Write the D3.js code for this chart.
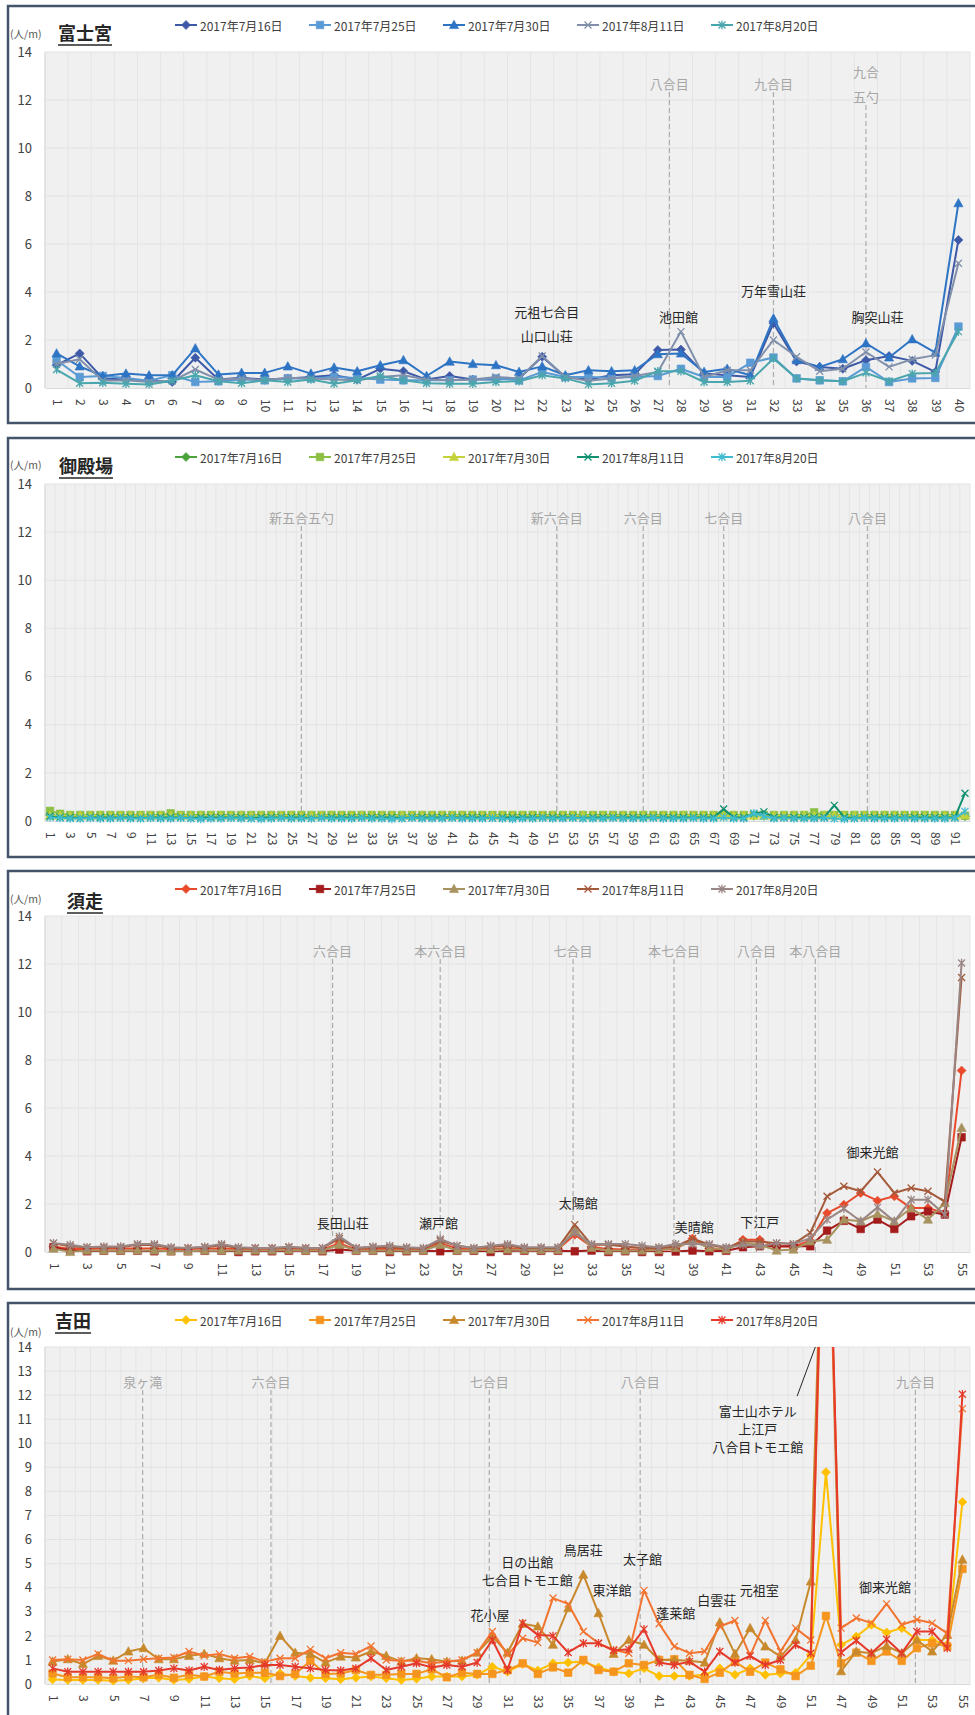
<!DOCTYPE html>
<html>
<head>
<meta charset="utf-8">
<script src="https://cdn.jsdelivr.net/npm/d3@7"></script>
<style>
  body { margin: 0; background: #fff; }
  svg { display: block; font-family: "Noto Sans CJK JP", "Noto Sans", sans-serif; }
</style>
</head>
<body>
<svg id="chart" width="975" height="1715"></svg>
<script>
// ---- data ----
const dates = ["2017年7月16日", "2017年7月25日", "2017年7月30日", "2017年8月11日", "2017年8月20日"];

// 富士宮 (points 1-40)
const fujiLabels = d3.range(1, 41).map(String);
const fuji716 = [0.95,1.44,0.4,0.35,0.3,0.25,1.26,0.35,0.43,0.35,0.4,0.46,0.53,0.35,0.8,0.7,0.35,0.5,0.35,0.35,0.4,1.3,0.46,0.35,0.53,0.57,1.58,1.6,0.6,0.53,0.46,2.7,1.1,0.88,0.8,1.16,1.33,1.13,0.67,6.17];
const fuji725 = [1.16,0.46,0.5,0.42,0.3,0.53,0.25,0.28,0.35,0.32,0.4,0.4,0.46,0.42,0.35,0.32,0.32,0.32,0.35,0.4,0.32,0.67,0.46,0.46,0.43,0.46,0.5,0.8,0.46,0.46,1.05,1.27,0.4,0.32,0.28,0.88,0.25,0.4,0.42,2.56];
const fuji730 = [1.44,0.9,0.5,0.6,0.53,0.53,1.65,0.56,0.63,0.63,0.9,0.6,0.85,0.7,0.95,1.16,0.5,1.1,1.0,0.95,0.67,0.9,0.53,0.74,0.7,0.74,1.41,1.44,0.67,0.8,0.53,2.9,1.16,0.88,1.2,1.86,1.27,2.03,1.47,7.7];
const fuji811 = [1.0,1.2,0.3,0.32,0.25,0.3,0.77,0.35,0.4,0.32,0.43,0.4,0.35,0.32,0.46,0.53,0.35,0.32,0.35,0.46,0.4,1.33,0.46,0.3,0.4,0.5,0.67,2.35,0.46,0.74,0.74,2.0,1.3,0.7,0.8,1.5,0.88,1.2,1.37,5.2];
const fuji820 = [0.77,0.2,0.22,0.18,0.15,0.3,0.53,0.28,0.2,0.32,0.25,0.35,0.18,0.32,0.5,0.32,0.2,0.18,0.18,0.25,0.28,0.53,0.4,0.15,0.2,0.3,0.7,0.7,0.25,0.25,0.3,1.23,0.4,0.32,0.28,0.63,0.28,0.6,0.63,2.35];

// 御殿場 (points 1-92)
const gotenLabels = d3.range(1, 93).map(String);
const goten716 = [0.25,0.2,0.2,0.2,0.2,0.2,0.2,0.2,0.2,0.2,
  0.2,0.2,0.22,0.2,0.2,0.2,0.2,0.2,0.2,0.2,
  0.2,0.2,0.2,0.2,0.2,0.2,0.2,0.2,0.2,0.2,
  0.2,0.2,0.2,0.2,0.2,0.2,0.2,0.2,0.2,0.2,
  0.2,0.2,0.2,0.2,0.2,0.2,0.2,0.2,0.2,0.2,
  0.2,0.2,0.2,0.2,0.2,0.2,0.2,0.2,0.2,0.2,
  0.2,0.2,0.2,0.2,0.2,0.2,0.2,0.25,0.2,0.2,
  0.22,0.22,0.2,0.2,0.2,0.2,0.22,0.2,0.2,0.2,
  0.2,0.2,0.2,0.2,0.2,0.2,0.2,0.2,0.2,0.2,
  0.2,0.2];
const goten725 = [0.42,0.3,0.25,0.25,0.25,0.25,0.25,0.25,0.25,0.25,
  0.25,0.25,0.32,0.25,0.25,0.25,0.25,0.25,0.25,0.25,
  0.25,0.25,0.25,0.25,0.25,0.25,0.25,0.25,0.25,0.25,
  0.25,0.25,0.25,0.25,0.25,0.25,0.25,0.25,0.25,0.25,
  0.25,0.25,0.25,0.25,0.25,0.25,0.25,0.25,0.25,0.25,
  0.25,0.25,0.25,0.25,0.25,0.25,0.25,0.25,0.25,0.25,
  0.25,0.25,0.25,0.25,0.25,0.25,0.25,0.25,0.25,0.25,
  0.25,0.25,0.25,0.25,0.25,0.25,0.36,0.25,0.25,0.25,
  0.25,0.25,0.25,0.25,0.25,0.25,0.25,0.25,0.25,0.25,
  0.25,0.22];
const goten730 = [0.22,0.22,0.22,0.22,0.22,0.22,0.22,0.22,0.22,0.22,
  0.22,0.22,0.22,0.22,0.22,0.22,0.22,0.22,0.22,0.22,
  0.22,0.22,0.22,0.22,0.22,0.22,0.22,0.22,0.22,0.22,
  0.22,0.22,0.22,0.22,0.22,0.22,0.22,0.22,0.22,0.22,
  0.22,0.22,0.22,0.22,0.22,0.22,0.22,0.22,0.22,0.22,
  0.22,0.22,0.22,0.22,0.22,0.22,0.22,0.22,0.22,0.22,
  0.22,0.22,0.22,0.22,0.22,0.22,0.22,0.22,0.22,0.22,
  0.22,0.22,0.22,0.22,0.22,0.22,0.22,0.22,0.22,0.22,
  0.22,0.22,0.22,0.22,0.22,0.22,0.22,0.22,0.22,0.22,
  0.22,0.25];
const goten811 = [0.2,0.15,0.15,0.12,0.15,0.15,0.15,0.15,0.15,0.12,
  0.15,0.15,0.15,0.15,0.12,0.15,0.15,0.15,0.15,0.15,
  0.12,0.15,0.15,0.15,0.15,0.15,0.12,0.15,0.15,0.15,
  0.15,0.15,0.15,0.15,0.15,0.12,0.15,0.15,0.15,0.15,
  0.15,0.15,0.15,0.15,0.12,0.15,0.15,0.15,0.15,0.15,
  0.15,0.15,0.15,0.12,0.15,0.15,0.15,0.15,0.15,0.15,
  0.15,0.15,0.15,0.15,0.15,0.15,0.15,0.5,0.15,0.15,
  0.3,0.38,0.15,0.15,0.15,0.15,0.15,0.15,0.65,0.15,
  0.12,0.15,0.15,0.15,0.15,0.15,0.15,0.15,0.15,0.15,
  0.15,1.15];
const goten820 = [0.15,0.12,0.1,0.1,0.12,0.1,0.1,0.12,0.1,0.1,
  0.12,0.1,0.1,0.12,0.1,0.08,0.1,0.1,0.12,0.1,
  0.1,0.08,0.1,0.12,0.1,0.1,0.1,0.12,0.1,0.1,
  0.1,0.12,0.1,0.1,0.08,0.1,0.12,0.1,0.1,0.1,
  0.12,0.1,0.1,0.1,0.12,0.1,0.08,0.1,0.1,0.12,
  0.1,0.1,0.12,0.1,0.1,0.1,0.12,0.1,0.1,0.1,
  0.12,0.1,0.1,0.1,0.12,0.1,0.1,0.15,0.1,0.1,
  0.32,0.2,0.1,0.12,0.1,0.1,0.1,0.12,0.1,0.08,
  0.1,0.12,0.1,0.1,0.1,0.12,0.1,0.1,0.1,0.1,
  0.12,0.4];

// 須走 (points 1-55)
const subaLabels = d3.range(1, 56).map(String);
const suba716 = [0.23,0.13,0.12,0.15,0.15,0.15,0.15,0.12,0.12,0.15,0.15,0.12,0.12,0.12,0.15,0.12,0.1,0.37,0.1,0.12,0.12,0.12,0.1,0.37,0.15,0.1,0.15,0.15,0.12,0.12,0.12,0.72,0.22,0.12,0.1,0.1,0.1,0.12,0.56,0.15,0.1,0.51,0.51,0.23,0.23,0.47,1.62,1.97,2.46,2.14,2.32,1.83,1.83,1.62,7.56];
const suba725 = [0.2,0.05,0.03,0.05,0.05,0.05,0.03,0.03,0.03,0.05,0.05,0.0,0.03,0.03,0.05,0.05,0.03,0.1,0.05,0.05,0.0,0.03,0.05,0.03,0.05,0.05,0.0,0.05,0.05,0.05,0.05,0.03,0.06,0.0,0.03,0.0,0.0,0.02,0.06,0.03,0.05,0.2,0.24,0.24,0.24,0.24,0.89,1.3,0.96,1.35,0.96,1.49,1.69,1.56,4.78];
const suba730 = [0.14,0.0,0.06,0.06,0.06,0.06,0.06,0.03,0.03,0.06,0.06,0.06,0.06,0.06,0.08,0.06,0.06,0.3,0.06,0.06,0.06,0.06,0.06,0.3,0.06,0.08,0.1,0.1,0.08,0.08,0.08,0.93,0.17,0.06,0.06,0.06,0.08,0.17,0.44,0.17,0.1,0.38,0.3,0.06,0.1,0.44,0.51,1.35,1.28,1.58,1.28,1.83,1.35,2.04,5.17];
const suba811 = [0.37,0.23,0.2,0.2,0.2,0.3,0.28,0.17,0.17,0.2,0.28,0.17,0.17,0.17,0.2,0.17,0.17,0.56,0.17,0.2,0.2,0.17,0.15,0.47,0.26,0.17,0.23,0.26,0.17,0.17,0.17,1.14,0.3,0.3,0.23,0.17,0.17,0.23,0.56,0.3,0.17,0.44,0.44,0.37,0.33,0.8,2.32,2.74,2.53,3.33,2.46,2.67,2.53,2.1,11.44];
const suba820 = [0.37,0.3,0.2,0.23,0.23,0.33,0.33,0.2,0.17,0.22,0.33,0.2,0.17,0.17,0.22,0.17,0.17,0.65,0.17,0.23,0.26,0.2,0.17,0.54,0.26,0.17,0.26,0.33,0.2,0.2,0.2,0.8,0.33,0.33,0.33,0.26,0.2,0.33,0.33,0.33,0.2,0.3,0.24,0.37,0.33,0.58,1.35,1.8,1.28,1.86,1.28,2.18,2.18,1.56,12.04];

// 吉田 (points 1-52, then the shared 須走 points 47-55)
const yoshLabels = d3.range(1, 53).map(String).concat(d3.range(47, 56).map(String));
const yosh716 = [0.19,0.17,0.17,0.17,0.14,0.17,0.24,0.26,0.17,0.21,0.31,0.24,0.2,0.33,0.24,0.44,0.33,0.26,0.24,0.2,0.26,0.31,0.24,0.17,0.22,0.31,0.31,0.31,0.38,0.72,0.51,0.83,0.56,0.86,0.89,0.93,0.69,0.51,0.44,0.65,0.33,0.33,0.33,0.38,0.65,0.38,0.65,0.38,0.44,0.47,1.21,8.8,1.63,1.97,2.46,2.14,2.32,1.83,1.83,1.63,7.56];
const yosh725 = [0.44,0.28,0.28,0.28,0.24,0.31,0.28,0.38,0.26,0.38,0.31,0.51,0.44,0.47,0.47,0.33,0.42,0.97,0.42,0.44,0.58,0.38,0.38,0.42,0.42,0.61,0.28,0.47,0.42,0.42,0.58,0.86,0.42,0.69,0.47,1.0,0.58,0.51,0.86,0.79,1.0,1.03,0.38,0.21,0.47,0.93,0.51,0.89,0.61,0.33,0.76,2.83,0.86,1.3,0.96,1.35,0.96,1.49,1.69,1.56,4.78];
const yosh730 = [0.93,1.03,0.83,1.17,0.97,1.35,1.49,1.03,1.03,1.17,1.25,1.07,0.97,1.0,0.86,2.0,1.3,1.25,0.89,1.14,1.1,1.35,1.17,0.93,1.07,1.03,0.93,0.97,1.3,1.97,1.3,2.5,2.39,1.63,3.15,4.54,2.94,1.25,1.83,1.63,1.0,1.0,0.97,0.89,2.56,1.25,2.32,1.56,1.14,1.83,4.26,25,0.53,1.35,1.28,1.58,1.28,1.83,1.35,2.04,5.17];
const yosh811 = [1.0,1.03,1.0,1.25,0.97,0.97,1.03,1.07,1.1,1.35,1.17,1.25,1.07,1.14,0.93,1.07,1.07,1.44,1.07,1.3,1.25,1.58,1.0,0.97,0.97,0.86,0.93,1.0,1.3,2.18,1.21,1.9,1.72,3.57,3.33,2.18,1.69,1.42,1.28,3.89,2.5,1.56,1.28,1.35,2.39,2.64,1.17,2.64,1.35,2.32,1.83,24,2.32,2.74,2.53,3.33,2.46,2.67,2.53,2.1,11.44];
const yosh820 = [0.65,0.51,0.51,0.51,0.51,0.51,0.51,0.56,0.65,0.56,0.72,0.58,0.65,0.69,0.79,0.79,0.72,0.65,0.58,0.56,0.65,1.07,0.58,0.72,0.86,0.69,0.79,0.72,0.89,1.83,0.58,2.53,2.04,2.0,1.31,1.69,1.69,1.39,1.44,2.28,0.89,0.79,0.93,0.51,1.35,0.89,1.17,0.79,1.0,1.63,1.28,26,1.31,1.81,1.28,1.86,1.28,2.18,2.18,1.49,12.04];

// ---- layout ----
const svg = d3.select("#chart");
const plotLeft = 45, plotRight = 970;
const symbols = ["diamond", "square", "triangle", "x", "star"];

// marker shapes like the spreadsheet ones
function symbolPath(type) {
  if (type === "diamond") return "M0,-4.5L4.5,0L0,4.5L-4.5,0Z";
  if (type === "square") return "M-3.8,-3.8H3.8V3.8H-3.8Z";
  if (type === "triangle") return "M0,-4.8L4.6,3.6L-4.6,3.6Z";
  if (type === "x") return "M-3.5,-3.5L3.5,3.5M3.5,-3.5L-3.5,3.5";
  return "M-3.5,-3.5L3.5,3.5M3.5,-3.5L-3.5,3.5M0,-4.2V4.2";
}

function drawMarker(sel, type, color) {
  const filled = type !== "x" && type !== "star";
  sel.attr("d", symbolPath(type))
    .attr("fill", filled ? color : "none")
    .attr("stroke", color)
    .attr("stroke-width", filled ? 0.6 : 1.3);
}

function drawPanel(p, idx) {
  const n = p.labels.length;
  const [plotTop, plotBottom] = p.plot;
  const x = d3.scaleLinear().domain([-0.5, n - 0.5]).range([plotLeft, plotRight]);
  const y = d3.scaleLinear().domain([0, 14]).range([plotBottom, plotTop]);
  const g = svg.append("g");

  // frame
  g.append("rect")
    .attr("x", 8).attr("y", p.box[0])
    .attr("width", 990).attr("height", p.box[1])
    .attr("fill", "#fff").attr("stroke", "#44546a").attr("stroke-width", 2.5);

  // plot area
  g.append("rect")
    .attr("x", plotLeft).attr("y", plotTop)
    .attr("width", plotRight - plotLeft).attr("height", plotBottom - plotTop)
    .attr("fill", "#f0f0f0");

  g.append("g").selectAll("line")
    .data(d3.range(n + 1))
    .join("line")
    .attr("x1", i => x(i - 0.5)).attr("x2", i => x(i - 0.5))
    .attr("y1", plotTop).attr("y2", plotBottom)
    .attr("stroke", "#e5e5e5");

  g.append("g").selectAll("line")
    .data(d3.range(p.yStep, 14.01, p.yStep))
    .join("line")
    .attr("x1", plotLeft).attr("x2", plotRight)
    .attr("y1", d => y(d)).attr("y2", d => y(d))
    .attr("stroke", "#e2e2e2");

  g.append("line")
    .attr("x1", plotLeft).attr("x2", plotLeft)
    .attr("y1", plotTop).attr("y2", plotBottom)
    .attr("stroke", "#d9d9d9");

  // x axis, labels turned to read downward
  const xAxis = d3.axisBottom(x)
    .tickValues(d3.range(0, n, p.every))
    .tickFormat(i => p.labels[i])
    .tickSize(0);
  const ax = g.append("g")
    .attr("transform", `translate(0,${plotBottom})`)
    .call(xAxis)
    .attr("font-family", null)
    .attr("font-size", 12);
  ax.select(".domain").attr("stroke", "#d9d9d9");
  ax.selectAll("text")
    .attr("transform", "rotate(90)")
    .attr("x", 11).attr("y", 0).attr("dy", "0.35em")
    .attr("text-anchor", "start")
    .attr("fill", "#404040");

  // y axis
  const yAxis = d3.axisLeft(y)
    .tickValues(d3.range(0, 14.01, p.yStep))
    .tickSize(0)
    .tickPadding(13);
  const ay = g.append("g")
    .attr("transform", `translate(${plotLeft},0)`)
    .call(yAxis)
    .attr("font-family", null)
    .attr("font-size", 13);
  ay.select(".domain").remove();
  ay.selectAll("text").attr("fill", "#404040");

  g.append("text")
    .attr("x", 10).attr("y", p.unitY)
    .attr("dominant-baseline", "central")
    .attr("font-size", 10.5).attr("fill", "#595959")
    .text("(人/m)");

  // station markers (dashed lines)
  p.stations.forEach(s => {
    const sx = x(s.at);
    const lastY = plotTop + p.stationY + (s.text.length - 1) * 13;
    g.append("line")
      .attr("x1", sx).attr("x2", sx)
      .attr("y1", lastY + 9).attr("y2", plotBottom)
      .attr("stroke", "#ababab").attr("stroke-width", 1.2)
      .attr("stroke-dasharray", "5,3");
    s.text.forEach((t, k) => {
      g.append("text")
        .attr("x", sx)
        .attr("y", plotTop + p.stationY - (s.text.length - 1) * 12 + k * 25)
        .attr("text-anchor", "middle").attr("dominant-baseline", "central")
        .attr("font-size", 13).attr("fill", "#a6a6a6")
        .text(t);
    });
  });

  // clip for the lines that run off the top
  g.append("clipPath").attr("id", `clip${idx}`)
    .append("rect")
    .attr("x", plotLeft).attr("y", plotTop)
    .attr("width", plotRight - plotLeft).attr("height", plotBottom - plotTop);

  const line = d3.line()
    .x((d, i) => x(i))
    .y(d => y(d));

  p.series.forEach((vals, k) => {
    g.append("path")
      .datum(vals)
      .attr("clip-path", `url(#clip${idx})`)
      .attr("d", line)
      .attr("fill", "none")
      .attr("stroke", p.colors[k])
      .attr("stroke-width", 2)
      .attr("stroke-linejoin", "round");

    g.append("g").selectAll("path")
      .data(vals.map((v, i) => [i, v]).filter(d => d[1] <= 14))
      .join("path")
      .attr("transform", d => `translate(${x(d[0])},${y(d[1])})`)
      .call(drawMarker, symbols[k], p.colors[k]);
  });

  // hut names
  p.notes.forEach(nt => {
    g.append("text")
      .attr("x", x(nt.at)).attr("y", y(nt.v))
      .attr("text-anchor", "middle").attr("dominant-baseline", "central")
      .attr("font-size", 13).attr("fill", "#262626")
      .text(nt.text);
  });

  if (p.leader) {
    g.append("line")
      .attr("x1", x(p.leader[0])).attr("y1", y(p.leader[1]))
      .attr("x2", x(p.leader[2])).attr("y2", y(p.leader[3]))
      .attr("stroke", "#262626").attr("stroke-width", 1);
  }

  // title
  const title = g.append("text")
    .attr("x", p.titleX).attr("y", p.titleY)
    .attr("dominant-baseline", "central")
    .attr("font-size", 18).attr("font-weight", "bold").attr("fill", "#262626")
    .text(p.title);
  const tw = title.node().getComputedTextLength();
  g.append("line")
    .attr("x1", p.titleX).attr("x2", p.titleX + tw)
    .attr("y1", p.titleY + 13).attr("y2", p.titleY + 13)
    .attr("stroke", "#262626").attr("stroke-width", 1.5);

  // legend
  dates.forEach((d, k) => {
    const lx = 175 + k * 134;
    g.append("line")
      .attr("x1", lx).attr("x2", lx + 22)
      .attr("y1", p.legendY).attr("y2", p.legendY)
      .attr("stroke", p.colors[k]).attr("stroke-width", 2);
    g.append("path")
      .attr("transform", `translate(${lx + 11},${p.legendY})`)
      .call(drawMarker, symbols[k], p.colors[k]);
    g.append("text")
      .attr("x", lx + 25).attr("y", p.legendY)
      .attr("dominant-baseline", "central")
      .attr("font-size", 12).attr("fill", "#404040")
      .text(d);
  });
}

const panels = [
  {
    title: "富士宮", titleX: 58, titleY: 32, legendY: 25, unitY: 33,
    box: [6, 417], plot: [52, 388], yStep: 2, every: 1, stationY: 31,
    labels: fujiLabels,
    series: [fuji716, fuji725, fuji730, fuji811, fuji820],
    colors: ["#3d59a7", "#5b9bd5", "#2e74c5", "#8190aa", "#4aa6ad"],
    stations: [
      { text: ["八合目"], at: 26.5 },
      { text: ["九合目"], at: 31 },
      { text: ["九合", "五勺"], at: 35 }
    ],
    notes: [
      { text: "元祖七合目", at: 21.2, v: 3.17 },
      { text: "山口山荘", at: 21.2, v: 2.17 },
      { text: "池田館", at: 26.9, v: 2.96 },
      { text: "万年雪山荘", at: 31, v: 4.08 },
      { text: "胸突山荘", at: 35.5, v: 2.96 }
    ]
  },
  {
    title: "御殿場", titleX: 59, titleY: 465, legendY: 457, unitY: 464,
    box: [438, 419], plot: [484, 821], yStep: 2, every: 2, stationY: 33,
    labels: gotenLabels,
    series: [goten716, goten725, goten730, goten811, goten820],
    colors: ["#4aa33b", "#8cc043", "#c5d33b", "#11916f", "#40bcd0"],
    stations: [
      { text: ["新五合五勺"], at: 25 },
      { text: ["新六合目"], at: 50.4 },
      { text: ["六合目"], at: 59 },
      { text: ["七合目"], at: 67 },
      { text: ["八合目"], at: 81.3 }
    ],
    notes: []
  },
  {
    title: "須走", titleX: 67, titleY: 900, legendY: 889, unitY: 898,
    box: [871, 418], plot: [916, 1252], yStep: 2, every: 2, stationY: 34,
    labels: subaLabels,
    series: [suba716, suba725, suba730, suba811, suba820],
    colors: ["#e84a2b", "#a51c1c", "#a8925f", "#a45a3b", "#9a8684"],
    stations: [
      { text: ["六合目"], at: 16.6 },
      { text: ["本六合目"], at: 23 },
      { text: ["七合目"], at: 30.9 },
      { text: ["本七合目"], at: 36.9 },
      { text: ["八合目"], at: 41.8 },
      { text: ["本八合目"], at: 45.3 }
    ],
    notes: [
      { text: "長田山荘", at: 17.2, v: 1.25 },
      { text: "瀬戸館", at: 22.9, v: 1.25 },
      { text: "太陽館", at: 31.2, v: 2.08 },
      { text: "美晴館", at: 38.1, v: 1.08 },
      { text: "下江戸", at: 42, v: 1.29 },
      { text: "御来光館", at: 48.7, v: 4.17 }
    ]
  },
  {
    title: "吉田", titleX: 55, titleY: 1320, legendY: 1320, unitY: 1331,
    box: [1303, 440], plot: [1347, 1684], yStep: 1, every: 2, stationY: 34,
    labels: yoshLabels,
    series: [yosh716, yosh725, yosh730, yosh811, yosh820],
    colors: ["#ffc000", "#f5951e", "#c8892c", "#f27430", "#e5392a"],
    stations: [
      { text: ["泉ヶ滝"], at: 5.94 },
      { text: ["六合目"], at: 14.4 },
      { text: ["七合目"], at: 28.8 },
      { text: ["八合目"], at: 38.75 },
      { text: ["九合目"], at: 56.9 }
    ],
    notes: [
      { text: "花小屋", at: 28.85, v: 2.88 },
      { text: "日の出館", at: 31.3, v: 5.08 },
      { text: "七合目トモエ館", at: 31.3, v: 4.33 },
      { text: "鳥居荘", at: 35, v: 5.58 },
      { text: "東洋館", at: 36.9, v: 3.92 },
      { text: "太子館", at: 38.9, v: 5.21 },
      { text: "蓬莱館", at: 41.1, v: 2.96 },
      { text: "白雲荘", at: 43.8, v: 3.5 },
      { text: "元祖室", at: 46.6, v: 3.92 },
      { text: "御来光館", at: 54.9, v: 4.04 },
      { text: "富士山ホテル", at: 46.5, v: 11.38 },
      { text: "上江戸", at: 46.5, v: 10.63 },
      { text: "八合目トモエ館", at: 46.5, v: 9.88 }
    ],
    leader: [49.1, 11.96, 50.3, 14]
  }
];

panels.forEach(drawPanel);
</script>
</body>
</html>
